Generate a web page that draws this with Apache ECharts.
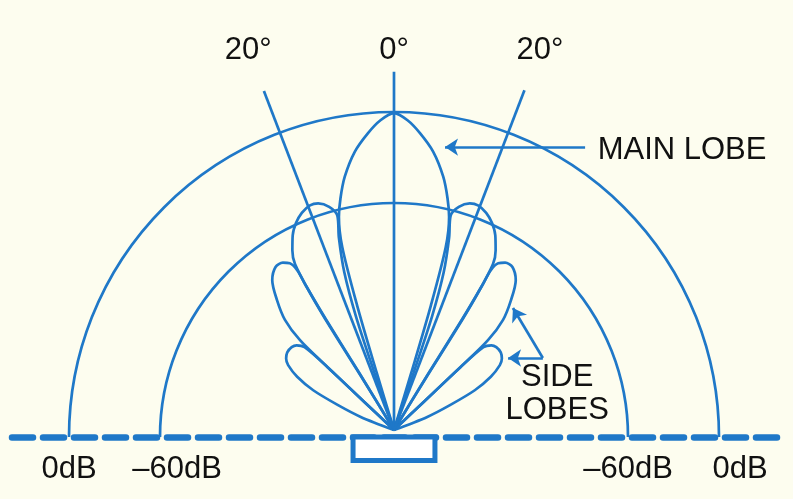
<!DOCTYPE html>
<html><head><meta charset="utf-8">
<script src="https://cdn.jsdelivr.net/npm/echarts@6/dist/echarts.min.js"></script>
<style>html,body{margin:0;padding:0;background:#fdfdef}#c{width:793px;height:499px}</style>
</head><body><div id="c"></div>
<script>
// Beam pattern, points are [radius (0dB ring = 100), angle from beam axis in degrees]
const mainLobe = [[0,-17],[18.5,-16.8],[40,-16.5],[58.5,-15.8],[67.7,-14.5],[73.2,-13],[79.4,-11],[86.5,-8],[91.7,-5],[95.4,-2.5],[97.5,0],
  [95.4,2.5],[91.7,5],[86.5,8],[79.4,11],[73.2,13],[67.7,14.5],[58.5,15.8],[40,16.5],[18.5,16.8],[0,17]];
const firstLobeLeft = [[0,-18.9],[18.5,-18.9],[36.9,-18.5],[50.8,-17.5],[61.5,-16],[68.3,-14.8],[71.5,-16.2],[73.5,-18.5],[73.8,-20.5],[72.6,-23],[70.5,-25.3],[67.5,-27.5],[63.5,-29.5],[59.5,-30.8],[49,-31.5],[36.9,-31.8],[18.5,-31.5],[0,-31.5]];
const firstLobeRight = [[0,18.9],[18.5,18.9],[36.9,18.5],[50.8,17.5],[61.5,16],[68.3,14.8],[71.5,16.2],[73.5,18.5],[73.8,20.5],[72.6,23],[70.5,25.3],[67.5,27.5],[63.5,29.5],[59.5,30.8],[49,31.5],[36.9,31.8],[18.5,31.5],[0,31.5]];
const secondLobeLeft = [[0,-31.2],[20,-31.3],[40,-31.6],[52,-31.4],[57.4,-31.2],[60.5,-32],[61.8,-33.6],[62,-36],[59.4,-39.1],[53.8,-42],[47.7,-44.7],[40,-46.3],[28,-46.6],[12,-46.6],[0,-46.6]];
const secondLobeRight = [[0,31.2],[20,31.3],[40,31.6],[52,31.4],[57.4,31.2],[60.5,32],[61.8,33.6],[62,36],[59.4,39.1],[53.8,42],[47.7,44.7],[40,46.3],[28,46.6],[12,46.6],[0,46.6]];
const thirdLobeLeft = [[0,-46.6],[12,-46.6],[28,-46.6],[37.5,-47.2],[39.7,-49],[40.5,-51],[40.6,-54],[39.8,-56.5],[38.2,-58.5],[34,-61.2],[27.7,-63.8],[19,-66],[11,-68.5],[0,-70]];
const thirdLobeRight = [[0,46.6],[12,46.6],[28,46.6],[37.5,47.2],[39.7,49],[40.5,51],[40.6,54],[39.8,56.5],[38.2,58.5],[34,61.2],[27.7,63.8],[19,66],[11,68.5],[0,70]];

const rayAngles = [-21, 0, 21];
const rayLengths = [111.7, 110.2, 112];
const rayLabels = ['20°', '0°', '20°'];

const ringLevels = [100, 72];
const ringLabels = ['0dB', '–60dB'];

const transducerSpan = [-12.6, 12.6];
const transducerDepth = [0, -7.2];

const BLUE = '#1f78c8';
const TEXT = '#111111';
const FONT = 'Liberation Sans, Arial, sans-serif';
const LW = 2.7;
const FS = 31;

const chart = echarts.init(document.getElementById('c'), null, {renderer: 'canvas'});

const lobes = [mainLobe, firstLobeLeft, firstLobeRight, secondLobeLeft, secondLobeRight, thirdLobeLeft, thirdLobeRight];
const lobeSeries = lobes.map(d => ({
  type: 'line', coordinateSystem: 'polar', polarIndex: 1, data: d,
  symbol: 'none', smooth: 0.3, clip: false, silent: true,
  lineStyle: {color: BLUE, width: LW}
}));
const raySeries = rayAngles.map((a, i) => ({
  type: 'line', coordinateSystem: 'polar', polarIndex: 1,
  data: [[0, a], [rayLengths[i], a]],
  symbol: 'none', clip: false, silent: true,
  lineStyle: {color: BLUE, width: LW}
}));
const LABEL_ROW = 116.9; // height of the angle labels above the source, in radius units
const labelStyle = {show: true, color: TEXT, fontSize: FS, fontFamily: FONT, opacity: 1, textBorderWidth: 0};
const rayLabelSeries = {
  type: 'scatter', coordinateSystem: 'polar', polarIndex: 1, clip: false, silent: true,
  symbolSize: 1, itemStyle: {color: 'rgba(0,0,0,0)', opacity: 1},
  data: rayAngles.map((a, i) => ({
    value: [LABEL_ROW / Math.cos(a * Math.PI / 180), a],
    label: Object.assign({}, labelStyle, {position: 'inside', formatter: rayLabels[i]})
  }))
};

const xTicks = [-ringLevels[0], -ringLevels[1], ringLevels[1], ringLevels[0]];

const option = {
  backgroundColor: '#fdfdef',
  animation: false,
  polar: [
    {center: [394, 437], radius: 325},
    {center: [394, 430], radius: 422.5}
  ],
  angleAxis: [
    {polarIndex: 0, type: 'value', min: -90, max: 90, startAngle: 180, endAngle: 0, clockwise: true,
     axisLine: {show: false}, axisTick: {show: false}, axisLabel: {show: false}, splitLine: {show: false}},
    {polarIndex: 1, type: 'value', min: -180, max: 180, startAngle: 270, clockwise: true,
     axisLine: {show: false}, axisTick: {show: false}, axisLabel: {show: false}, splitLine: {show: false}}
  ],
  radiusAxis: [
    {polarIndex: 0, type: 'value', min: 0, max: 100,
     axisLine: {show: false}, axisLabel: {show: false},
     axisTick: {show: false, customValues: ringLevels},
     splitLine: {show: true, lineStyle: {color: BLUE, width: LW}}},
    {polarIndex: 1, type: 'value', min: 0, max: 130,
     axisLine: {show: false}, axisTick: {show: false}, axisLabel: {show: false}, splitLine: {show: false}}
  ],
  grid: {left: 10.5, right: 15.5, top: 112, bottom: 62},
  xAxis: {
    type: 'value', min: -118, max: 118,
    axisLine: {show: true, lineStyle: {color: BLUE, width: 6.5, type: [21, 10], dashOffset: -1.5}},
    axisTick: {show: false}, splitLine: {show: false},
    axisLabel: {
      customValues: xTicks, margin: 17, color: TEXT, fontSize: FS, fontFamily: FONT,
      formatter: v => {
        const t = ringLabels[ringLevels.indexOf(Math.abs(v))];
        if (v === -ringLevels[1]) return '{a|' + t + '}';
        if (v === ringLevels[0]) return '{b|' + t + '}';
        return t;
      },
      rich: {
        a: {padding: [0, 0, 0, 34], fontSize: FS, color: TEXT, fontFamily: FONT},
        b: {padding: [0, 0, 0, 42], fontSize: FS, color: TEXT, fontFamily: FONT}
      }
    }
  },
  yAxis: {type: 'value', min: 0, max: 100, show: false},
  series: [
    ...lobeSeries,
    ...raySeries,
    rayLabelSeries,
    {
      type: 'custom', coordinateSystem: 'cartesian2d', clip: false, silent: true, z: 5,
      data: [[transducerSpan[0], transducerDepth[0], transducerSpan[1], transducerDepth[1]]],
      encode: {x: [0, 2], y: [1, 3]},
      renderItem: (params, api) => {
        const p1 = api.coord([api.value(0), api.value(1)]);
        const p2 = api.coord([api.value(2), api.value(3)]);
        return {type: 'rect', shape: {x: p1[0], y: p1[1], width: p2[0] - p1[0], height: p2[1] - p1[1]},
                style: {fill: '#ffffff', stroke: BLUE, lineWidth: 5}};
      }
    },
    {
      type: 'lines', coordinateSystem: 'cartesian2d', silent: true, clip: false,
      symbol: ['none', 'arrow'], symbolSize: 13,
      lineStyle: {color: BLUE, width: LW, opacity: 1},
      data: [
        {coords: [[58.8, 89.2], [15.7, 89.2]]},
        {coords: [[45.8, 24.3], [36.6, 39.7]]},
        {coords: [[45.8, 24.3], [35.1, 24.3]]}
      ]
    },
    {
      type: 'scatter', coordinateSystem: 'cartesian2d', silent: true, clip: false,
      symbolSize: 1, itemStyle: {color: 'rgba(0,0,0,0)', opacity: 1},
      data: [
        {value: [62.5, 88.3], label: Object.assign({}, labelStyle, {position: 'right', distance: 0, formatter: 'MAIN LOBE'})},
        {value: [50.2, 13.1], label: Object.assign({}, labelStyle, {position: 'inside', align: 'center', lineHeight: 33, formatter: 'SIDE\nLOBES'})}
      ]
    }
  ]
};
chart.setOption(option);
</script></body></html>
